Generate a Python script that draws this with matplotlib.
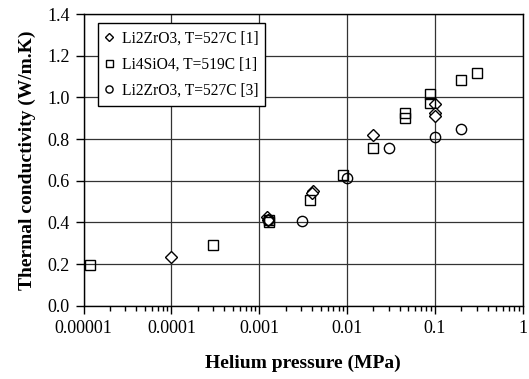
import numpy as np
import matplotlib.pyplot as plt
from matplotlib.ticker import LogLocator, NullFormatter

plt.rcParams['font.family'] = ['Liberation Serif', 'DejaVu Serif']

# Li2ZrO3, T=527C [1]
zr1_p = [1.0e-4, 1.23e-3, 1.25e-3, 4.1e-3, 4.0e-3, 0.02, 0.1, 0.1, 0.1]
zr1_k = [0.235, 0.427, 0.41, 0.55, 0.54, 0.82, 0.966, 0.923, 0.912]

# Li4SiO4, T=519C [1]
si_p = [1.19e-5, 3.0e-4, 1.3e-3, 1.28e-3, 3.8e-3, 9.1e-3, 0.0198, 0.046, 0.046, 0.0885, 0.0885, 0.2, 0.3]
si_k = [0.198, 0.291, 0.40, 0.41, 0.507, 0.63, 0.755, 0.926, 0.90, 1.016, 0.971, 1.083, 1.118]

# Li2ZrO3, T=527C [3]
zr3_p = [1.25e-3, 3.04e-3, 0.01, 0.03, 0.1, 0.2]
zr3_k = [0.41, 0.406, 0.614, 0.755, 0.811, 0.85]

fig = plt.figure(figsize=(5.29, 3.79), dpi=100)
ax = fig.add_axes([0.158, 0.193, 0.830, 0.770])

ax.plot(zr1_p, zr1_k, linestyle='none', marker='D', markersize=6.2, markerfacecolor='white',
        markeredgecolor='black', markeredgewidth=1.0, label='Li2ZrO3, T=527C [1]')
ax.plot(si_p, si_k, linestyle='none', marker='s', markersize=7.2, markerfacecolor='none',
        markeredgecolor='black', markeredgewidth=1.0, label='Li4SiO4, T=519C [1]')
ax.plot(zr3_p, zr3_k, linestyle='none', marker='o', markersize=7.4, markerfacecolor='none',
        markeredgecolor='black', markeredgewidth=1.0, label='Li2ZrO3, T=527C [3]')

ax.set_xscale('log')
ax.set_xlim(1e-5, 1)
ax.set_ylim(0, 1.4)
ax.set_xticks([1e-5, 1e-4, 1e-3, 1e-2, 1e-1, 1])
ax.set_xticklabels(['0.00001', '0.0001', '0.001', '0.01', '0.1', '1'])
ax.xaxis.set_minor_locator(LogLocator(base=10, subs=np.arange(2, 10)))
ax.xaxis.set_minor_formatter(NullFormatter())
ax.set_yticks(np.arange(0, 1.41, 0.2))
ax.set_yticklabels(['%.1f' % v for v in np.arange(0, 1.41, 0.2)])

ax.grid(True, which='major', color='#333333', linewidth=0.9)
ax.tick_params(which='major', direction='out', length=6, width=1, labelsize=13, pad=4)
ax.tick_params(which='minor', direction='out', length=3.5, width=1)
ax.tick_params(top=False, right=False)
for s in ax.spines.values():
    s.set_linewidth(1.0)
    s.set_color('black')

ax.set_xlabel('Helium pressure (MPa)', fontsize=14, fontweight='bold', labelpad=13)
ax.set_ylabel('Thermal conductivity (W/m.K)', fontsize=14, fontweight='bold', labelpad=8)

leg = ax.legend(loc='upper left', bbox_to_anchor=(0.032, 0.968), fontsize=11.2, frameon=True,
                fancybox=False, framealpha=1, edgecolor='black', handlelength=0.6,
                handletextpad=0.5, borderpad=0.45, labelspacing=0.65, markerscale=0.7,
                borderaxespad=0)
leg.get_frame().set_linewidth(1.0)

fig.savefig('out.png', dpi=100)
